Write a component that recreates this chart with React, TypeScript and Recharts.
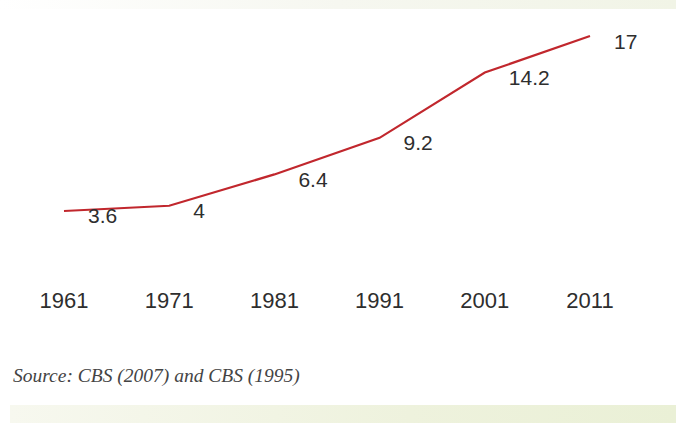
import React from "react";
import { LineChart, Line, XAxis, YAxis, LabelList } from "recharts";

const years = ["1961", "1971", "1981", "1991", "2001", "2011"];
const values = [3.6, 4, 6.4, 9.2, 14.2, 17];
const valueLabels = ["3.6", "4", "6.4", "9.2", "14.2", "17"];

const data = years.map((y, i) => ({ year: y, value: values[i], label: valueLabels[i] }));

const renderTick = (props: any) => {
  const { x, y, payload } = props;
  return (
    <text
      x={x}
      y={y + 34}
      textAnchor="middle"
      dominantBaseline="central"
      fill="#2e2e2e"
      fontSize={22}
      fontFamily="'Liberation Sans', Arial, sans-serif"
    >
      {payload.value}
    </text>
  );
};

const renderLabel = (props: any) => {
  const { x, y, index } = props;
  return (
    <text
      x={x + 24}
      y={y + 5}
      textAnchor="start"
      dominantBaseline="central"
      fill="#2e2e2e"
      fontSize={21}
      fontFamily="'Liberation Sans', Arial, sans-serif"
    >
      {valueLabels[index]}
    </text>
  );
};

export default function App() {
  return (
    <div
      style={{
        position: "fixed",
        left: 0,
        top: 0,
        width: 676,
        height: 423,
        background: "#ffffff",
        overflow: "hidden",
      }}
    >
      <div
        style={{
          position: "absolute",
          left: 0,
          top: 0,
          width: 676,
          height: 9,
          background: "linear-gradient(to right, #ffffff 0%, #f6f7f0 50%, #f1f4e6 100%)",
        }}
      />
      <div
        style={{
          position: "absolute",
          left: 10,
          top: 405,
          width: 666,
          height: 18,
          background: "linear-gradient(to right, #f7f8ef 0%, #eef2dd 60%, #eaf0d6 100%)",
        }}
      />
      <div style={{ position: "absolute", left: 0, top: 0 }}>
        <LineChart
          width={676}
          height={423}
          data={data}
          margin={{ top: 36, right: 86, left: 64, bottom: 135 }}
        >
          <XAxis
            dataKey="year"
            height={30}
            axisLine={false}
            tickLine={false}
            tick={renderTick}
            interval={0}
          />
          <YAxis hide width={0} domain={[0, 17]} />
          <Line
            type="linear"
            dataKey="value"
            stroke="#c1272d"
            strokeWidth={2.2}
            dot={false}
            isAnimationActive={false}
          >
            <LabelList dataKey="value" content={renderLabel} />
          </Line>
        </LineChart>
      </div>
      <div
        style={{
          position: "absolute",
          left: 13,
          top: 364,
          fontFamily: "'Liberation Serif', 'Times New Roman', serif",
          fontStyle: "italic",
          fontSize: 19.5,
          lineHeight: "24px",
          color: "#444",
          whiteSpace: "nowrap",
        }}
      >
        Source: CBS (2007) and CBS (1995)
      </div>
    </div>
  );
}
